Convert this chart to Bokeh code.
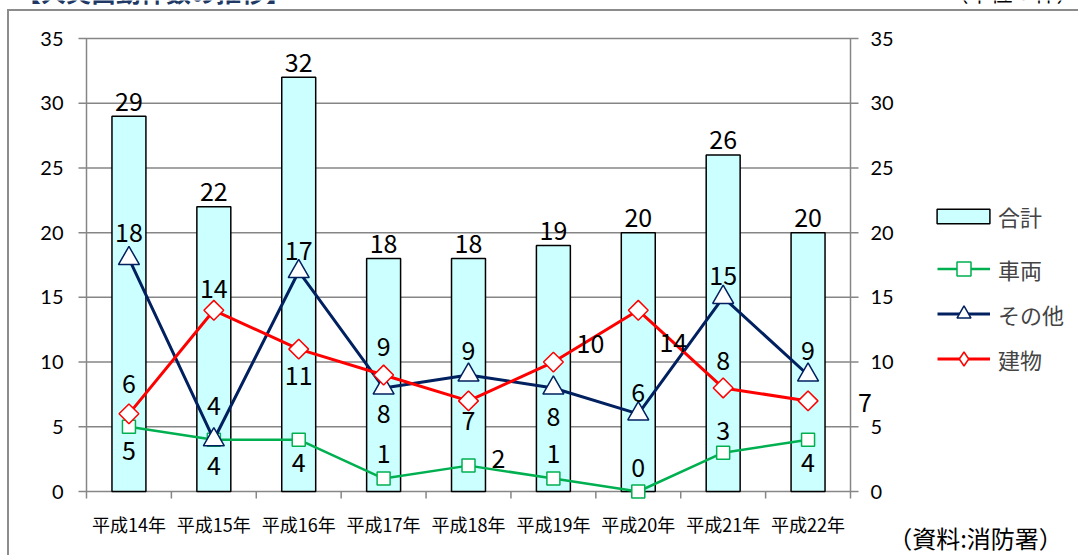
import math
from bokeh.plotting import figure
from bokeh.models import (ColumnDataSource, Range1d, Legend, LegendItem, Label)
from bokeh.core.properties import value
from bokeh.embed import file_html
from bokeh.resources import INLINE

# ---------------- data ----------------
years = ["平成14年", "平成15年", "平成16年", "平成17年", "平成18年",
         "平成19年", "平成20年", "平成21年", "平成22年"]
total = [29, 22, 32, 18, 18, 19, 20, 26, 20]        # 合計
vehicle = [5, 4, 4, 1, 2, 1, 0, 3, 4]              # 車両
other = [18, 4, 17, 8, 9, 8, 6, 15, 9]             # その他
building = [6, 14, 11, 9, 7, 10, 14, 8, 7]        # 建物
y_ticks = [0, 5, 10, 15, 20, 25, 30, 35]
title_text = "【火災出動件数の推移】"
unit_text = "（単位：件）"
source_text = "（資料:消防署）"

# label offsets (screen px, centre of label relative to point; +dy = down)
total_dx = [0] * 9
total_dy = [-15] * 9
vehicle_dx = [0, 0, 0, 0, 30, 0, 0, 0, 0]
vehicle_dy = [24, 26, 23, -25, -7, -25, -24, -22, 23]
other_dx = [0] * 9
other_dy = [-26, -34, -21, 26, -25, 29, -21, -22, -25]
building_dx = [0, 0, 0, 0, 0, 37, 35, 0, 57]
building_dy = [-30, -22, 26, -29, 20, -19, 32, -27, 2]

# ---------------- layout / styles ----------------
GRAY = "#868686"
GREEN = "#00B050"
NAVY = "#002060"
RED = "#FF0000"
BAR_FILL = "#CCFFFF"
JP = "Noto Sans CJK JP"

W, H = 1078, 555
AX_LEFT, AX_RIGHT = 86, 850    # pixel columns of the two value axes
Y0_PX, Y35_PX = 491, 38        # pixel rows of y = 0 and y = 35
n = len(years)
PX_X = (AX_RIGHT - AX_LEFT) / n    # px per category
PX_Y = (Y0_PX - Y35_PX) / 35.0     # px per unit

p = figure(width=W, height=H,
           x_range=Range1d(-AX_LEFT / PX_X, (W - AX_LEFT) / PX_X),
           y_range=Range1d(-(H - Y0_PX) / PX_Y, Y0_PX / PX_Y),
           output_backend="svg", toolbar_location=None, title=None,
           x_axis_location=None, y_axis_location=None,
           min_border_left=0, min_border_right=0, min_border_top=0, min_border_bottom=0,
           outline_line_color=None, background_fill_color=None, border_fill_color=None)
# thin grey chart-area border (top & left) drawn as layered inset shadows
p.styles = {"box-shadow": "inset 7px 9px 0 0 #FFFFFF, inset 9px 11px 0 0 #8C8C8C",
            "background-color": "white"}
p.grid.visible = False

xc = [i + 0.5 for i in range(n)]
src = ColumnDataSource(dict(x=xc, total=total, vehicle=vehicle, other=other, building=building,
                            total_lbl=[str(v) for v in total],
                            vehicle_lbl=[str(v) for v in vehicle],
                            other_lbl=[str(v) for v in other],
                            building_lbl=[str(v) for v in building],
                            total_dx=total_dx, total_dy=total_dy,
                            vehicle_dx=vehicle_dx, vehicle_dy=vehicle_dy,
                            other_dx=other_dx, other_dy=other_dy,
                            building_dx=building_dx, building_dy=building_dy))

# ---- axes: grid lines with tick marks on both sides, axis lines, boundary ticks ----
tick_x = 8 / PX_X
nt = len(y_ticks)
p.segment(x0=[-tick_x] * nt, x1=[n + tick_x] * nt, y0=y_ticks, y1=y_ticks,
          line_color=GRAY, line_width=1.5)
p.segment(x0=[0, n], x1=[0, n], y0=[0, 0], y1=[y_ticks[-1]] * 2,
          line_color=GRAY, line_width=1.5)
bnd = list(range(n + 1))
p.segment(x0=bnd, x1=bnd, y0=[0] * (n + 1), y1=[-7 / PX_Y] * (n + 1),
          line_color=GRAY, line_width=1.5)

# ---- series ----
bars = p.vbar(x="x", top="total", width=0.4, source=src, fill_color=BAR_FILL,
              line_color="black", line_width=1.5)

l_v = p.line(x="x", y="vehicle", source=src, line_color=GREEN, line_width=2.5)
s_v = p.scatter(x="x", y="vehicle", source=src, marker="square", size=13,
                fill_color="white", line_color=GREEN, line_width=1.5)
l_o = p.line(x="x", y="other", source=src, line_color=NAVY, line_width=3)
s_o = p.scatter(x="x", y="other", source=src, marker="triangle", size=21,
                fill_color="white", line_color=NAVY, line_width=1.5)
l_b = p.line(x="x", y="building", source=src, line_color=RED, line_width=3)
s_b = p.scatter(x="x", y="building", source=src, marker="square", size=14, angle=math.pi / 4,
                fill_color="white", line_color=RED, line_width=1.5)
# legend-only diamond (legend markers ignore rotation); NaN position -> never drawn in plot
s_b_leg = p.scatter(x=[float("nan")], y=[float("nan")], marker="diamond", size=20,
                    fill_color="white", line_color=RED, line_width=1.5)

for key in ["total", "vehicle", "other", "building"]:
    p.text(x="x", y=key, text=key + "_lbl", source=src,
           x_offset=key + "_dx", y_offset=key + "_dy",
           text_align="center", text_baseline="middle",
           text_font=value(JP), text_font_size="25px", text_color="black")

# x category labels
p.text(x=xc, y=[0] * n, text=years, y_offset=32, text_align="center", text_baseline="middle",
       text_font=value(JP), text_font_size="18px", text_color="black")
# value-axis tick labels (left and right)
p.text(x=[0] * nt, y=y_ticks, text=[str(t) for t in y_ticks], x_offset=-23,
       text_align="right", text_baseline="middle", text_font=value("Lato"),
       text_font_size="20px", text_color="black")
p.text(x=[n] * nt, y=y_ticks, text=[str(t) for t in y_ticks], x_offset=20,
       text_align="left", text_baseline="middle", text_font=value("Lato"),
       text_font_size="20px", text_color="black")

# ---- legends ----
leg1 = Legend(items=[LegendItem(label="合計", renderers=[bars])],
              location=(930, 323), glyph_width=66, glyph_height=18, label_height=18,
              label_standoff=2, padding=0, margin=0, border_line_color=None,
              background_fill_alpha=0, label_text_font=JP, label_text_font_size="22px",
              label_text_baseline="middle")
leg2 = Legend(items=[LegendItem(label="車両", renderers=[l_v, s_v]),
                     LegendItem(label="その他", renderers=[l_o, s_o]),
                     LegendItem(label="建物", renderers=[l_b, s_b_leg])],
              location=(937, 179), glyph_width=53, glyph_height=35, label_height=20,
              spacing=10, label_standoff=8, padding=0, margin=0, border_line_color=None,
              background_fill_alpha=0, label_text_font=JP, label_text_font_size="22px")
p.add_layout(leg1)
p.add_layout(leg2)

# ---- texts ----
p.add_layout(Label(x=975, y=H - 537, x_units="screen", y_units="screen", text=source_text,
                   text_align="center", text_baseline="middle", text_font=JP,
                   text_font_size="24px", text_color="black"))
p.add_layout(Label(x=153, y=H + 10, x_units="screen", y_units="screen", text=title_text,
                   text_align="center", text_baseline="middle", text_font=JP,
                   text_font_size="25px", text_font_style="bold", text_color="#203864"))
p.add_layout(Label(x=1012, y=H + 10, x_units="screen", y_units="screen", text=unit_text,
                   text_align="center", text_baseline="middle", text_font=JP,
                   text_font_size="22px", text_color="black"))

open("out.html", "w").write(file_html(p, INLINE))
